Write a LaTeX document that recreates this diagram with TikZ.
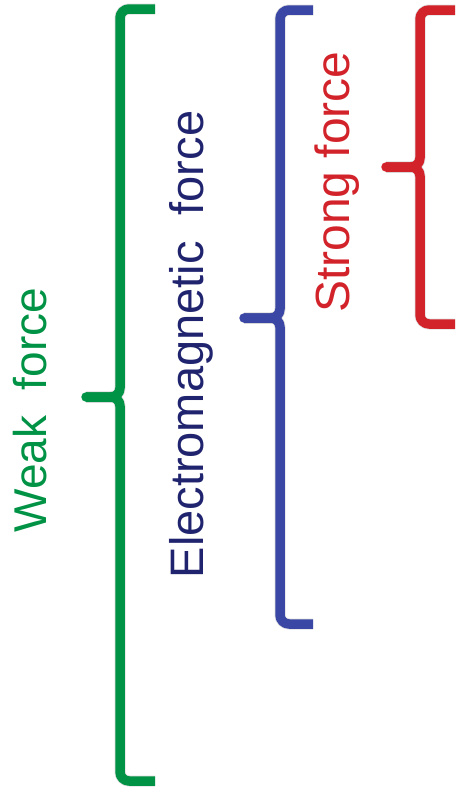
\documentclass[tikz,border=0pt]{standalone}
\usepackage{fontspec}
\setmainfont{Liberation Sans}
\definecolor{weakgreen}{RGB}{0,146,69}
\definecolor{embrace}{RGB}{59,71,164}
\definecolor{emtext}{RGB}{32,36,110}
\definecolor{strongred}{RGB}{210,35,42}
\tikzset{
  bracestroke/.style={line width=9.5pt, line cap=butt, line join=round, rounded corners=9pt},
  braceshadow/.style={bracestroke, draw=black, draw opacity=0.13, line width=11pt},
  forcelabel/.style={rotate=90, inner sep=0pt, font=\fontsize{46}{52}\selectfont}
}
% #1 colour, #2 x of vertical, #3 top y, #4 middle y, #5 bottom y, #6 end x, #7 tip x, #8 name
\newcommand\forcebrace[8]{%
  \coordinate (#8top) at (#6,#3);
  \coordinate (#8topc) at (#2,#3);
  \coordinate (#8mid) at (#2,#4);
  \coordinate (#8botc) at (#2,#5);
  \coordinate (#8bot) at (#6,#5);
  \coordinate (#8tip) at (#7,#4);
  \begin{scope}[shift={(3,3)}]
    \draw[braceshadow] (#8top) -- (#8topc) -- (#8mid) -- (#8tip);
    \draw[braceshadow] (#8bot) -- (#8botc) -- (#8mid) -- (#8tip);
  \end{scope}
  \draw[bracestroke, draw=#1] (#8top) -- (#8topc) -- (#8mid) -- (#8tip);
  \draw[bracestroke, draw=#1] (#8bot) -- (#8botc) -- (#8mid) -- (#8tip);
  \fill[#1] (#8tip) circle (4.75pt);
}
\begin{document}
\begin{tikzpicture}[x=1pt, y=-1pt]
\useasboundingbox (0,0) rectangle (459,795);
\forcebrace{weakgreen}{120}{9}{397}{781}{155}{86}{weak}
\forcebrace{embrace}{280}{10}{318}{624}{313}{244}{em}
\forcebrace{strongred}{420}{10}{167}{324}{455}{386}{strong}
\node[forcelabel, text=weakgreen] (weaklabel) at (30,410) {Weak\ \ force};
\node[forcelabel, text=emtext, font=\fontsize{47}{52}\selectfont] (emlabel) at (191.5,344.5) {Electromagnetic\ \ force};
\node[forcelabel, text=strongred, font=\fontsize{48}{52}\selectfont] (stronglabel) at (337,182) {Strong force};
\end{tikzpicture}
\end{document}
